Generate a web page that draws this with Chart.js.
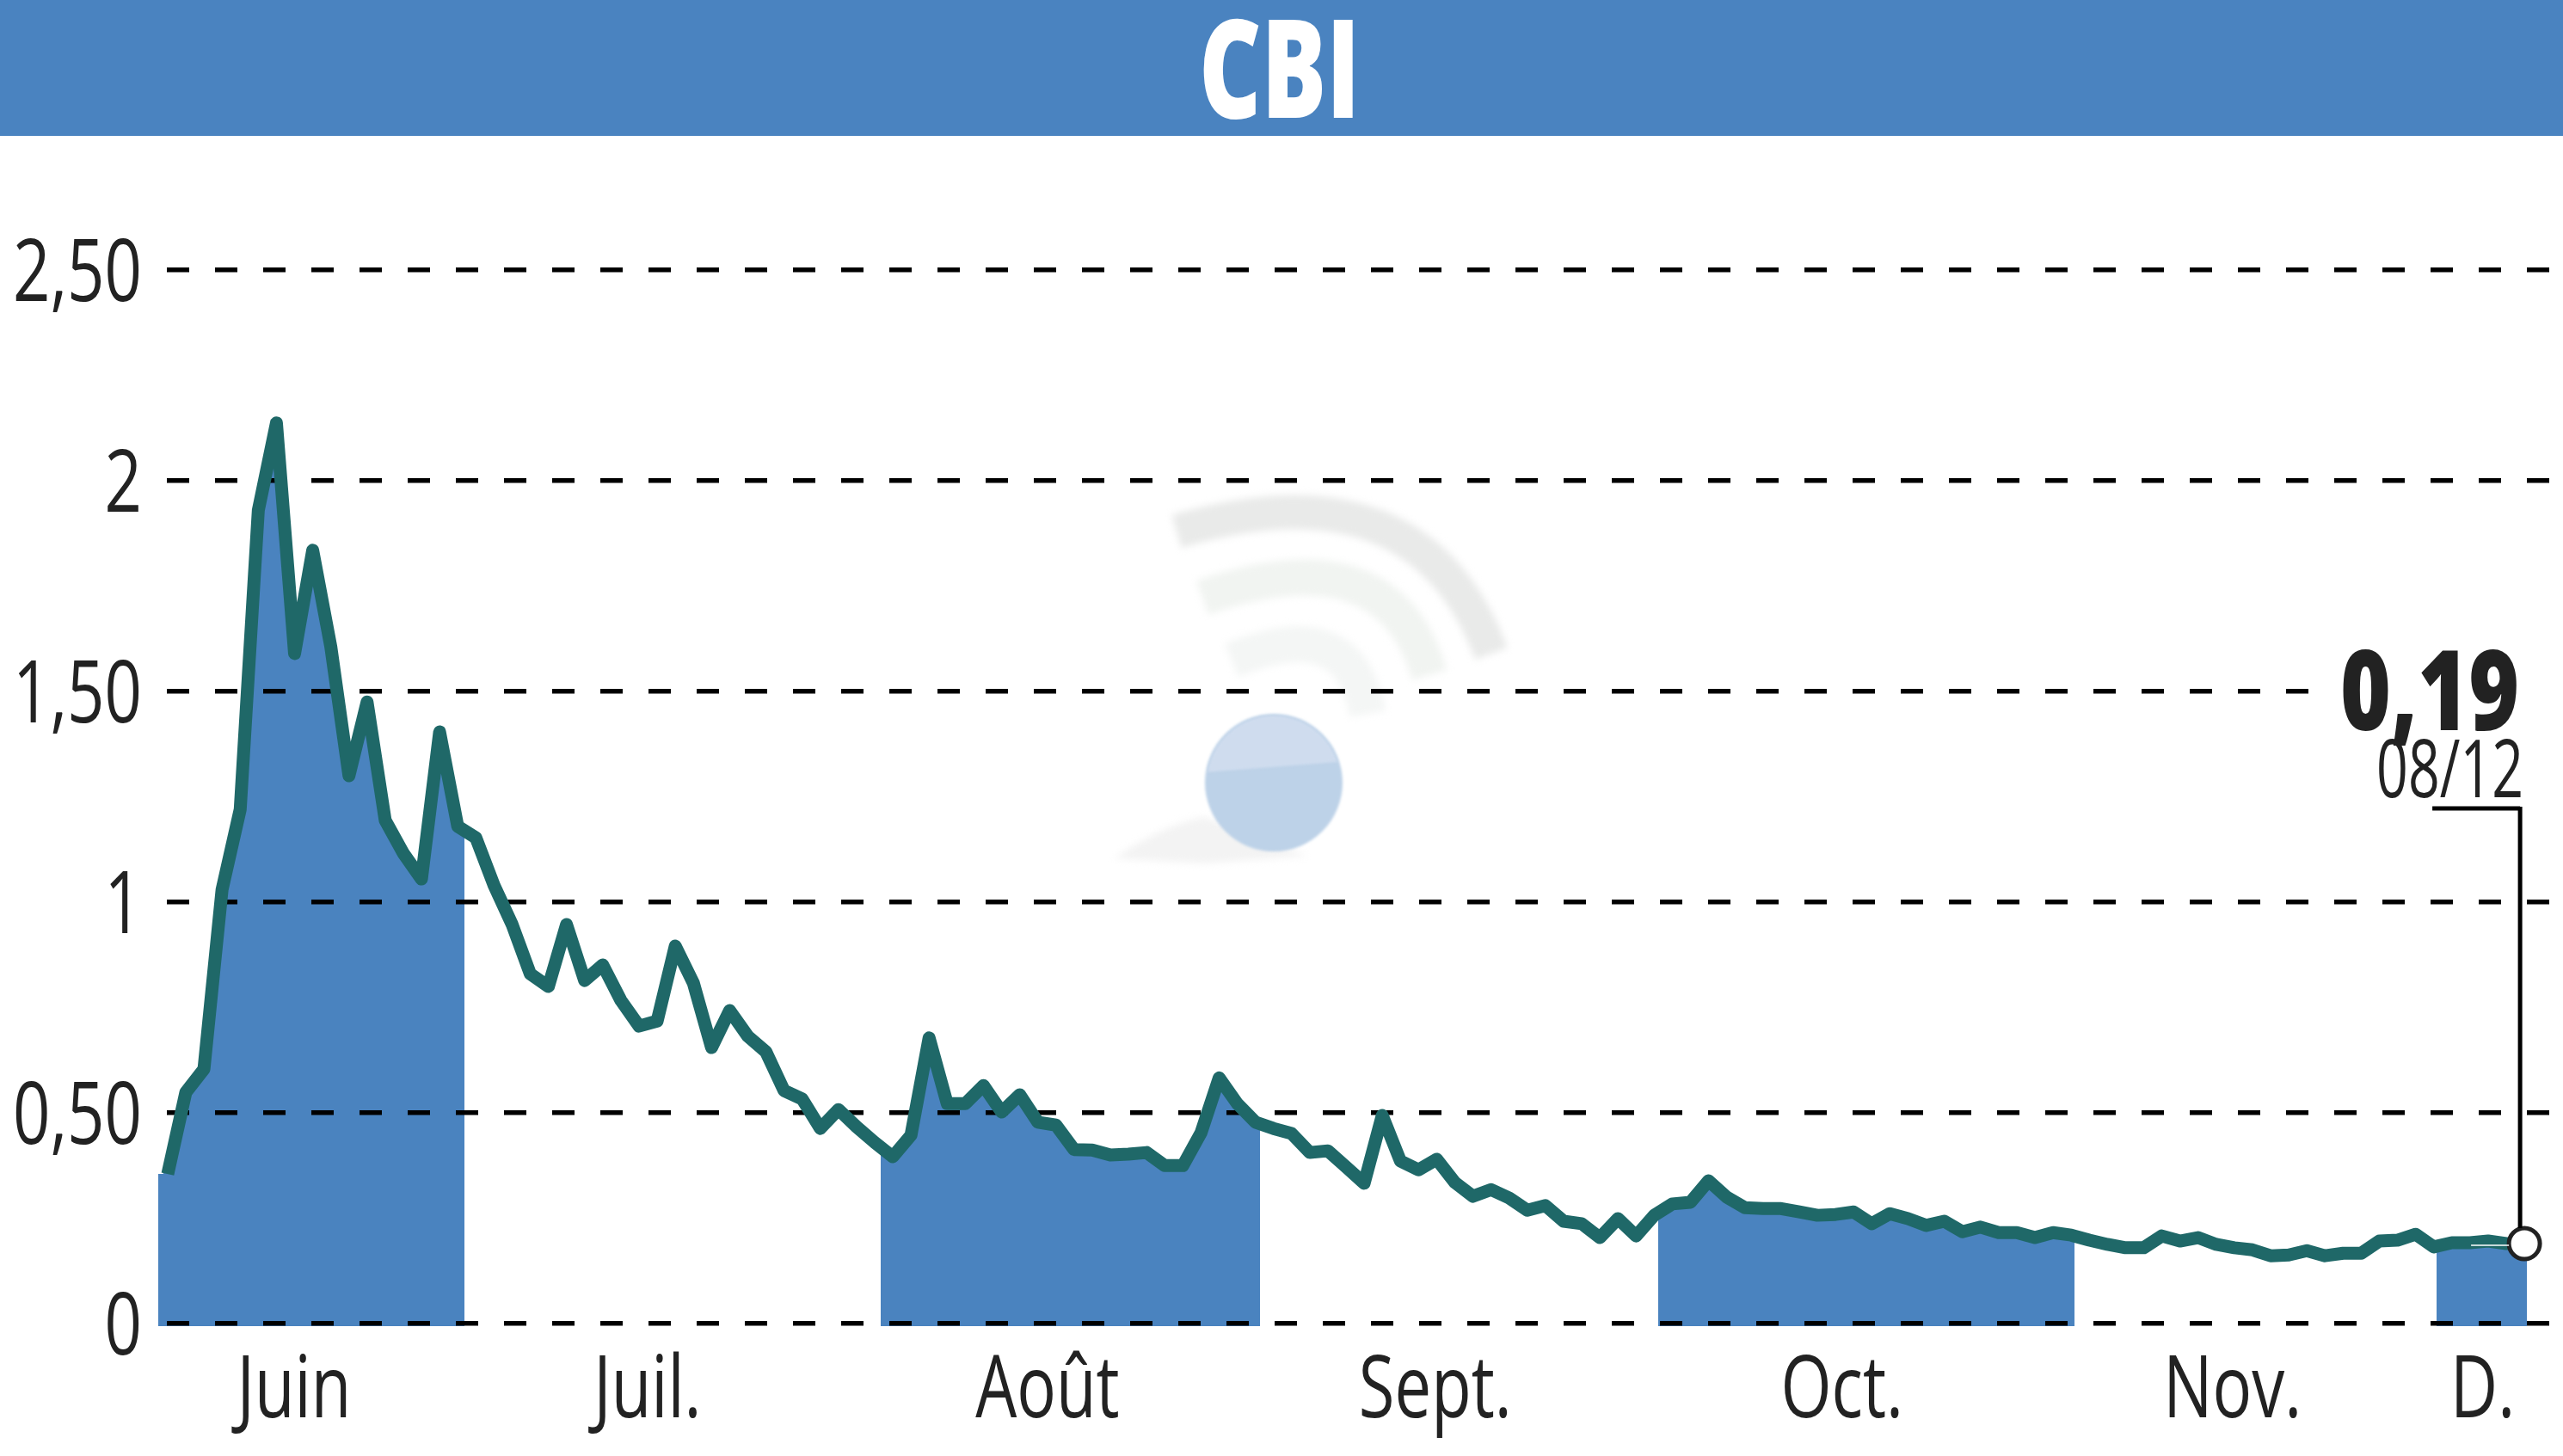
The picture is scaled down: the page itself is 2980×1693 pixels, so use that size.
<!DOCTYPE html>
<html lang="fr">
<head>
<meta charset="utf-8">
<title>CBI</title>
<script src="https://cdn.jsdelivr.net/npm/chart.js@4/dist/chart.umd.js"></script>
<style>
  html, body { margin: 0; background: #fff; }
  #wrap { position: relative; width: 2980px; height: 1693px; overflow: hidden; }
  #head { position: absolute; left: 0; top: 0; width: 100%; height: 158px; background: #4a83c0; text-align: center; z-index: 2; }
  #head span { display: inline-block; font: 800 160px/151px "Open Sans", sans-serif; color: #fff; transform: scaleX(.70); margin-left: -4px; }
  canvas { display: block; }
</style>
</head>
<body>
<div id="wrap">
  <div id="head"><span>CBI</span></div>
  <!-- 23px de plus a droite : Chart.js reserve la place du dernier point -->
  <canvas id="chart" width="3003" height="1693"></canvas>
</div>
<script>
// cours de cloture, un point par seance
const closes = [
  0.355, 0.549, 0.604, 1.03, 1.22, 1.93, 2.137, 1.59, 1.835, 1.606,
  1.30, 1.475, 1.194, 1.116, 1.055, 1.404, 1.18, 1.153, 1.04, 0.947,
  0.83, 0.80, 0.947, 0.814, 0.851, 0.767, 0.706, 0.718, 0.896, 0.808,
  0.655, 0.743, 0.682, 0.645, 0.553, 0.533, 0.463, 0.508, 0.467, 0.43,
  0.396, 0.447, 0.678, 0.522, 0.522, 0.565, 0.502, 0.543, 0.478, 0.471,
  0.413, 0.412, 0.40, 0.402, 0.406, 0.375, 0.375, 0.453, 0.583, 0.522,
  0.478, 0.463, 0.451, 0.406, 0.41, 0.372, 0.333, 0.494, 0.386, 0.365,
  0.39, 0.335, 0.302, 0.318, 0.298, 0.269, 0.28, 0.243, 0.237, 0.204,
  0.249, 0.208, 0.257, 0.284, 0.288, 0.339, 0.30, 0.275, 0.273, 0.273,
  0.265, 0.257, 0.259, 0.265, 0.237, 0.261, 0.249, 0.233, 0.243, 0.218,
  0.229, 0.216, 0.216, 0.204, 0.216, 0.21, 0.198, 0.188, 0.18, 0.18,
  0.208, 0.196, 0.204, 0.188, 0.18, 0.175, 0.161, 0.163, 0.173, 0.161,
  0.167, 0.167, 0.196, 0.198, 0.212, 0.182, 0.192, 0.192, 0.196, 0.19,
  0.19
];
const monthLabels = ['Juin', 'Juil.', 'Août', 'Sept.', 'Oct.', 'Nov.', 'D.'];
const monthLabelDays = [6.97, 26.47, 48.53, 69.92, 92.36, 113.9, 127.7];
// mois colores une fois sur deux, bornes en numero de seance
const bandStarts = [-0.52, 39.33, 82.2, 125.14];
const bandEnds = [16.37, 60.25, 105.17, 130.14];
const yTicks = [0, 0.5, 1, 1.5, 2, 2.5];
const yLabels = ['0', '0,50', '1', '1,50', '2', '2,50'];
const lastValue = '0,19';
const lastDate = '08/12';

const BLUE = '#4a83bf';
const LINE = '#1f6868';
const INK = '#222222';
const SANS = '"Open Sans", sans-serif';
const SQUEEZE = 0.76; // pas de police condensee installee, on resserre le texte

const last = closes.length - 1;
const linePoints = closes.map((v, i) => ({ x: i, y: v }));
// la surface est legerement decalee a gauche de la courbe, comme sur l'original
const fillPoints = closes.map((v, i) => ({ x: i - 0.25, y: v }));
fillPoints.unshift({ x: -0.52, y: closes[0] });
fillPoints.push({ x: last + 0.5, y: closes[last] });

function bandGradient(context) {
  const chart = context.chart;
  const area = chart.chartArea;
  if (!area) return BLUE;
  const x = chart.scales.x;
  const g = chart.ctx.createLinearGradient(area.left, 0, area.right, 0);
  const pos = v => Math.min(1, Math.max(0, (x.getPixelForValue(v) - area.left) / (area.right - area.left)));
  bandStarts.forEach((start, i) => {
    g.addColorStop(pos(start), 'rgba(74,131,191,0)');
    g.addColorStop(pos(start), BLUE);
    g.addColorStop(pos(bandEnds[i]), BLUE);
    g.addColorStop(pos(bandEnds[i]), 'rgba(74,131,191,0)');
  });
  return g;
}

function arc(ctx, x0, y0, cx, cy, x1, y1, width, color) {
  ctx.beginPath();
  ctx.moveTo(x0, y0);
  ctx.quadraticCurveTo(cx, cy, x1, y1);
  ctx.lineWidth = width;
  ctx.strokeStyle = color;
  ctx.stroke();
}

function squeezedText(ctx, text, x, y) {
  ctx.fillText(text, x, y, ctx.measureText(text).width * SQUEEZE);
}

// logo en filigrane derriere le graphique
const watermark = {
  id: 'watermark',
  beforeDraw(chart) {
    const ctx = chart.ctx;
    ctx.save();
    ctx.filter = 'blur(4px)';
    arc(ctx, 1368, 618, 1650, 535, 1734, 760, 40, '#e9eae9');
    arc(ctx, 1398, 695, 1615, 620, 1662, 785, 42, '#f1f4f1');
    arc(ctx, 1432, 768, 1570, 710, 1590, 830, 42, '#f4f6f5');
    ctx.fillStyle = '#f3f3f3';
    ctx.beginPath();
    ctx.moveTo(1296, 998);
    ctx.quadraticCurveTo(1350, 960, 1400, 950);
    ctx.lineTo(1520, 995);
    ctx.lineTo(1400, 1004);
    ctx.closePath();
    ctx.fill();
    ctx.filter = 'blur(1.5px)';
    ctx.fillStyle = '#bdd2e8';
    ctx.beginPath();
    ctx.arc(1481, 910, 80, 0, Math.PI * 2);
    ctx.fill();
    ctx.fillStyle = '#cfdcee';
    ctx.beginPath();
    ctx.arc(1481, 910, 78, Math.PI * 1.05, Math.PI * 1.9);
    ctx.closePath();
    ctx.fill();
    ctx.restore();
  }
};

// libelles des axes, resserres a la main car Chart.js ne sait pas le faire
const axisText = {
  id: 'axisText',
  afterDraw(chart) {
    const ctx = chart.ctx;
    const { x, y } = chart.scales;
    ctx.save();
    ctx.fillStyle = INK;
    ctx.textBaseline = 'alphabetic';
    ctx.font = '100px ' + SANS;
    ctx.textAlign = 'right';
    y.getTicks().forEach((t, i) => squeezedText(ctx, t.label, 165, y.getPixelForTick(i) + 36));
    ctx.textAlign = 'center';
    x.getTicks().forEach((t, i) => squeezedText(ctx, t.label, x.getPixelForTick(i), 1648));
    ctx.restore();
  }
};

// derniere valeur et son renvoi
const lastQuote = {
  id: 'lastQuote',
  afterDatasetsDraw(chart) {
    const ctx = chart.ctx;
    const px = chart.scales.x.getPixelForValue(last);
    const py = chart.scales.y.getPixelForValue(closes[last]);
    const gridY = chart.scales.y.getPixelForValue(1.5);
    ctx.save();
    ctx.fillStyle = '#fff';
    ctx.fillRect(px - 238, gridY - 6, 273, 12);
    ctx.strokeStyle = '#fff';
    ctx.lineWidth = 1.5;
    ctx.beginPath();
    ctx.moveTo(px - 62, py + 2);
    ctx.lineTo(px - 18, py + 2);
    ctx.stroke();
    ctx.strokeStyle = '#000';
    ctx.lineWidth = 5;
    ctx.beginPath();
    ctx.moveTo(px - 107, 940);
    ctx.lineTo(px - 5, 940);
    ctx.moveTo(px - 5, 938);
    ctx.lineTo(px - 5, py - 18);
    ctx.stroke();
    ctx.fillStyle = INK;
    ctx.textAlign = 'right';
    ctx.textBaseline = 'alphabetic';
    ctx.font = '800 129px ' + SANS;
    ctx.fillText(lastValue, px - 6, 849, 208);
    ctx.font = '93px ' + SANS;
    ctx.fillText(lastDate, px - 1, 927, 171);
    ctx.restore();
  }
};

new Chart(document.getElementById('chart'), {
  type: 'line',
  data: {
    datasets: [
      {
        data: linePoints,
        borderColor: LINE,
        borderWidth: 15,
        borderJoinStyle: 'round',
        borderCapStyle: 'butt',
        tension: 0,
        fill: false,
        clip: false,
        pointRadius: c => (c.dataIndex === last ? 18 : 0),
        pointBackgroundColor: '#fff',
        pointBorderColor: INK,
        pointBorderWidth: 5
      },
      {
        data: fillPoints,
        borderWidth: 0,
        borderColor: 'transparent',
        backgroundColor: bandGradient,
        tension: 0,
        pointRadius: 0,
        fill: 'start'
      }
    ]
  },
  options: {
    responsive: false,
    animation: false,
    devicePixelRatio: 1,
    layout: { padding: { top: 314, left: 0, right: 0, bottom: 0 } },
    plugins: {
      legend: { display: false },
      tooltip: { enabled: false },
      title: { display: false },
      // la surface passe sous les pointilles
      filler: { drawTime: 'beforeDraw', propagate: false }
    },
    scales: {
      x: {
        type: 'linear',
        min: -0.52,
        max: 132.13,
        afterFit: s => { s.height = 151; },
        afterBuildTicks: s => { s.ticks = monthLabelDays.map(v => ({ value: v })); },
        grid: { display: false, drawTicks: false },
        border: { display: false },
        ticks: { display: false, autoSkip: false, maxRotation: 0, callback: (v, i) => monthLabels[i] }
      },
      y: {
        min: -0.006,
        max: 2.5,
        afterFit: s => { s.width = 184; },
        afterBuildTicks: s => { s.ticks = yTicks.map(v => ({ value: v })); },
        grid: { color: '#000', lineWidth: 5.5, drawTicks: false },
        border: { display: false, dash: [26, 30], dashOffset: 46 },
        ticks: { display: false, callback: (v, i) => yLabels[i] }
      }
    }
  },
  plugins: [watermark, axisText, lastQuote]
});
</script>
</body>
</html>
